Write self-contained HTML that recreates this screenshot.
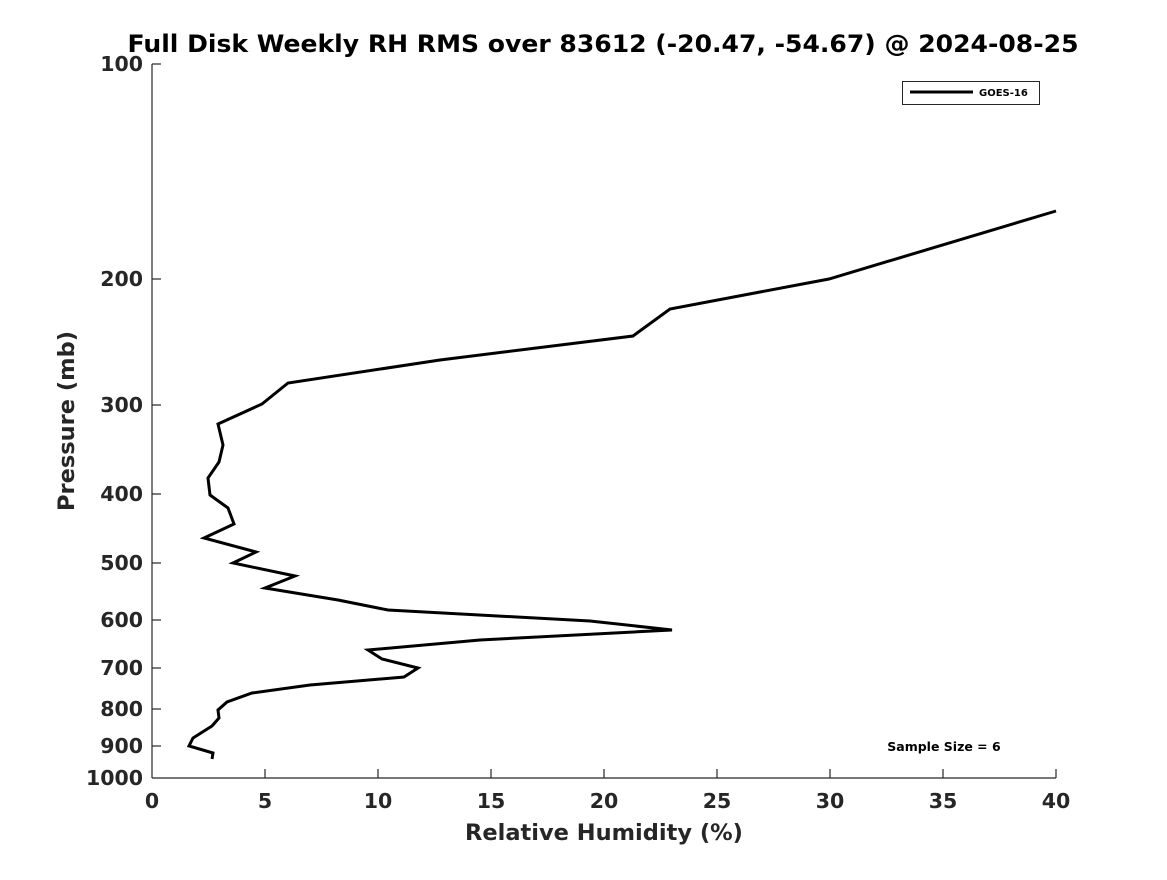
<!DOCTYPE html>
<html><head><meta charset="utf-8"><style>
html,body{margin:0;padding:0;background:#fff;}
svg text{font-family:"DejaVu Sans","Liberation Sans",sans-serif;font-weight:bold;}
</style></head><body>
<svg width="1167" height="875" viewBox="0 0 1167 875" xmlns="http://www.w3.org/2000/svg">
<rect width="1167" height="875" fill="#fff"/>
<text x="603" y="52" font-size="24" text-anchor="middle" textLength="951" lengthAdjust="spacingAndGlyphs" fill="#000">Full Disk Weekly RH RMS over 83612 (-20.47, -54.67) @ 2024-08-25</text>
<g stroke="#262626" stroke-width="1.2" fill="none">
<line x1="152" y1="64" x2="152" y2="778"/>
<line x1="152" y1="778" x2="1056" y2="778"/>
<line x1="152" y1="64" x2="161" y2="64"/>
<line x1="152" y1="279" x2="161" y2="279"/>
<line x1="152" y1="405" x2="161" y2="405"/>
<line x1="152" y1="494" x2="161" y2="494"/>
<line x1="152" y1="563" x2="161" y2="563"/>
<line x1="152" y1="620" x2="161" y2="620"/>
<line x1="152" y1="668" x2="161" y2="668"/>
<line x1="152" y1="709" x2="161" y2="709"/>
<line x1="152" y1="746" x2="161" y2="746"/>
<line x1="265" y1="778" x2="265" y2="769"/>
<line x1="378" y1="778" x2="378" y2="769"/>
<line x1="491" y1="778" x2="491" y2="769"/>
<line x1="604" y1="778" x2="604" y2="769"/>
<line x1="717" y1="778" x2="717" y2="769"/>
<line x1="830" y1="778" x2="830" y2="769"/>
<line x1="943" y1="778" x2="943" y2="769"/>
<line x1="1056" y1="778" x2="1056" y2="769"/>
</g>
<g font-size="20.5" fill="#262626" text-anchor="end">
<text x="143" y="71">100</text>
<text x="143" y="286">200</text>
<text x="143" y="412">300</text>
<text x="143" y="501">400</text>
<text x="143" y="570">500</text>
<text x="143" y="627">600</text>
<text x="143" y="675">700</text>
<text x="143" y="716">800</text>
<text x="143" y="753">900</text>
<text x="143" y="785">1000</text>
</g>
<g font-size="20.5" fill="#262626" text-anchor="middle">
<text x="152" y="808">0</text>
<text x="265" y="808">5</text>
<text x="378" y="808">10</text>
<text x="491" y="808">15</text>
<text x="604" y="808">20</text>
<text x="717" y="808">25</text>
<text x="830" y="808">30</text>
<text x="943" y="808">35</text>
<text x="1056" y="808">40</text>
</g>
<text x="604" y="840" font-size="22.5" fill="#262626" text-anchor="middle">Relative Humidity (%)</text>
<text transform="translate(74,421) rotate(-90)" font-size="22.5" fill="#262626" text-anchor="middle">Pressure (mb)</text>
<polyline fill="none" stroke="#000" stroke-width="3" stroke-linejoin="miter" points="1056,211 829,279 670,309 633,336 440,360 288,383 262,404 218,424 223,445 219,462 208,478 210,495 228,508 234,524 204,538 256,552 233,563 295,576 265,588 338,600 388,610 590,621 672,630 480,640 368,650 382,659 418,668 404,677 310,685 252,693 227,702 218,710 219,718 212,726 193,738 189,746 213,753 212,759"/>
<rect x="902.5" y="81.5" width="137" height="23" fill="#fff" stroke="#262626" stroke-width="1"/>
<line x1="910" y1="92" x2="973" y2="92" stroke="#000" stroke-width="3"/>
<text x="979" y="96" font-size="10" fill="#000">GOES-16</text>
<text x="944" y="751" font-size="12.5" fill="#000" text-anchor="middle">Sample Size = 6</text>
</svg>
</body></html>
